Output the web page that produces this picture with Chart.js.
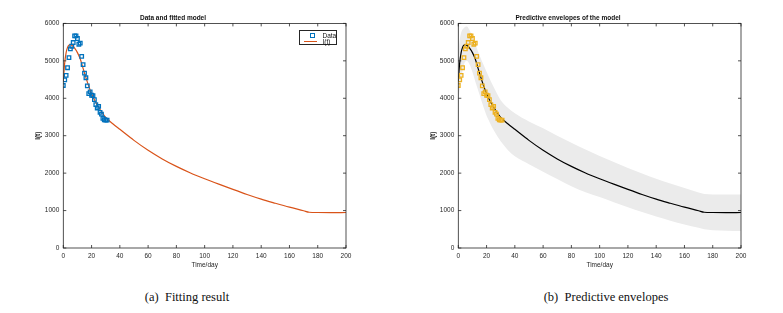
<!DOCTYPE html>
<html>
<head>
<meta charset="utf-8">
<script src="https://cdn.jsdelivr.net/npm/chart.js@4.4.1/dist/chart.umd.min.js"></script>
<style>
  body { margin: 0; background: #fff; width: 783px; height: 313px; position: relative; overflow: hidden; }
  canvas { position: absolute; top: 0; }
  #leftChart { left: 0; }
  #rightChart { left: 395px; }
  .caption { position: absolute; top: 290px; font-family: "Liberation Serif", "Times New Roman", serif; font-size: 12.5px; color: #111; white-space: nowrap; transform: translateX(-50%); }
  .legend { position: absolute; left: 299px; top: 30px; width: 38px; height: 15px; border: 0.8px solid #262626; background: #fff;
            font-family: "Liberation Sans", Arial, sans-serif; font-size: 6.5px; color: #111; box-sizing: border-box; }
  .legend .row { position: absolute; left: 0; height: 7px; line-height: 7px; }
  .legend .sq { position: absolute; left: 9.5px; top: 1px; width: 3px; height: 3px; border: 1.3px solid #0072BD; }
  .legend .ln { position: absolute; left: 4px; top: 3px; width: 13px; height: 1.3px; background: #D95319; }
  .legend .txt { position: absolute; left: 22.5px; top: 0; }
</style>
</head>
<body>
<canvas id="leftChart" width="360" height="275"></canvas>
<canvas id="rightChart" width="360" height="275"></canvas>
<div class="legend">
  <div class="row" style="top:0.5px"><span class="sq"></span><span class="txt">Data</span></div>
  <div class="row" style="top:7px"><span class="ln"></span><span class="txt">I(t)</span></div>
</div>
<div class="caption" style="left:187px">(a)&nbsp; Fitting result</div>
<div class="caption" style="left:606px">(b)&nbsp; Predictive envelopes</div>
<script>
//Observed data
var dataDays = [0,1,2,3,4,5,6,7,8,9,10,11,12,13,14,15,16,17,18,19,20,21,22,23,24,25,26,27,28,29,30,31];
var dataCases = [4341,4493,4610,4816,5085,5318,5390,5489,5668,5668,5596,5444,5471,5121,4897,4673,
                 4548,4332,4126,4170,4081,4072,3964,3830,3740,3785,3623,3578,3462,3426,3417,3417];

//Fitted model I(t)
var fitDays = [0,1,2,3,4,5,6,8,10,12,14,16,18,20,22,25,28,30,35,40,50,60,70,80,90,100,110,120,130,140,150,160,170,174,180,190,200];
var fitValues = [4450,4950,5220,5360,5420,5435,5415,5340,5220,5050,4800,4550,4320,4120,3960,3760,3590,3490,3320,3170,
                 2875,2610,2380,2180,2005,1850,1705,1565,1430,1305,1195,1090,995,955,948,946,948];

//Predictive envelope
var envDays = [0,1,2,4,6,8,10,12,15,18,21,25,30,35,40,50,60,70,80,90,100,110,120,130,140,150,160,170,174,180,190,200];
var envUpper = [5200,5550,5750,5880,5920,5820,5650,5450,5150,4880,4620,4300,3950,3750,3600,3380,3200,3000,2810,2630,
                2460,2300,2140,1990,1850,1720,1600,1480,1440,1430,1430,1430];
var envLower = [3900,4250,4500,4900,5000,4900,4700,4450,4100,3750,3450,3150,2850,2620,2450,2240,2040,1840,1650,1490,
                1360,1220,1090,960,840,730,630,540,500,475,462,455];

//Axis ticks
var xTicks = [0,20,40,60,80,100,120,140,160,180,200];
var yTicks = [0,1000,2000,3000,4000,5000,6000];

var axisColor = '#262626';
var font = { family: '"Liberation Sans", Arial, sans-serif', size: 6.5 };

function toPoints(xs, ys) {
  return xs.map(function (x, i) { return { x: x, y: ys[i] }; });
}

//Draws the box round the plot and MATLAB style inward ticks
var boxTicks = {
  id: 'boxTicks',
  afterDatasetsDraw: function (chart) {
    var ctx = chart.ctx;
    var a = chart.chartArea;
    var x = chart.scales.x;
    var y = chart.scales.y;
    ctx.save();
    ctx.strokeStyle = axisColor;
    ctx.lineWidth = 0.8;
    ctx.strokeRect(a.left, a.top, a.right - a.left, a.bottom - a.top);
    ctx.beginPath();
    for (var i = 0; i < x.ticks.length; i++) {
      var px = x.getPixelForTick(i);
      ctx.moveTo(px, a.bottom); ctx.lineTo(px, a.bottom - 3);
      ctx.moveTo(px, a.top); ctx.lineTo(px, a.top + 3);
    }
    for (var j = 0; j < y.ticks.length; j++) {
      var py = y.getPixelForTick(j);
      ctx.moveTo(a.left, py); ctx.lineTo(a.left + 3, py);
      ctx.moveTo(a.right, py); ctx.lineTo(a.right - 3, py);
    }
    ctx.stroke();
    ctx.restore();
  }
};

function plainLabel(value) {
  return String(value);
}

function makeOptions(titleText) {
  return {
    responsive: false,
    animation: false,
    devicePixelRatio: 1,
    layout: { padding: { left: 0, right: 14, top: 0, bottom: 0 } },
    plugins: {
      legend: { display: false },
      tooltip: { enabled: false },
      title: {
        display: true, text: titleText, color: '#111',
        font: { family: font.family, size: 6.5, weight: 'bold' },
        padding: { top: 14, bottom: 1.6 }
      }
    },
    scales: {
      x: {
        type: 'linear', min: 0, max: 200,
        afterBuildTicks: function (s) { s.ticks = xTicks.map(function (v) { return { value: v }; }); },
        afterFit: function (s) { s.height = 27; },
        grid: { display: false, drawTicks: false },
        border: { display: false },
        ticks: { color: axisColor, font: font, padding: 4, maxRotation: 0, autoSkip: false, callback: plainLabel },
        title: { display: true, text: 'Time/day', color: axisColor, font: font, padding: { top: 0, bottom: 5.8 } }
      },
      y: {
        type: 'linear', min: 0, max: 6000,
        afterBuildTicks: function (s) { s.ticks = yTicks.map(function (v) { return { value: v }; }); },
        afterFit: function (s) { s.width = 63.3; },
        grid: { display: false, drawTicks: false },
        border: { display: false },
        ticks: { color: axisColor, font: font, padding: 4, autoSkip: false, callback: plainLabel },
        title: { display: true, text: 'I(t)', color: axisColor, font: { family: font.family, size: 6.5, weight: 'bold' }, padding: { top: 34.8, bottom: 0 } }
      }
    }
  };
}

//Left chart: data and fitted model
new Chart(document.getElementById('leftChart'), {
  type: 'line',
  data: {
    datasets: [{
      label: 'Data',
      data: toPoints(dataDays, dataCases),
      showLine: false,
      pointStyle: 'rect',
      pointRadius: 2.5,
      pointBorderWidth: 1.3,
      pointBorderColor: '#0072BD',
      pointBackgroundColor: 'rgba(0,0,0,0)'
    }, {
      label: 'I(t)',
      data: toPoints(fitDays, fitValues),
      borderColor: '#D95319',
      borderWidth: 1.2,
      pointRadius: 0,
      cubicInterpolationMode: 'monotone'
    }]
  },
  options: makeOptions('Data and fitted model'),
  plugins: [boxTicks]
});

//Right chart: predictive envelopes
new Chart(document.getElementById('rightChart'), {
  type: 'line',
  data: {
    datasets: [{
      label: 'Data',
      data: toPoints(dataDays, dataCases),
      showLine: false,
      pointStyle: 'rect',
      pointRadius: 2.5,
      pointBorderWidth: 1.3,
      pointBorderColor: '#EDB120',
      pointBackgroundColor: 'rgba(0,0,0,0)'
    }, {
      label: 'I(t)',
      data: toPoints(fitDays, fitValues),
      borderColor: '#000000',
      borderWidth: 1.2,
      pointRadius: 0,
      cubicInterpolationMode: 'monotone'
    }, {
      label: 'upper',
      data: toPoints(envDays, envUpper),
      borderWidth: 0,
      pointRadius: 0,
      backgroundColor: '#ebebeb',
      fill: '+1',
      cubicInterpolationMode: 'monotone'
    }, {
      label: 'lower',
      data: toPoints(envDays, envLower),
      borderWidth: 0,
      pointRadius: 0,
      fill: false,
      cubicInterpolationMode: 'monotone'
    }]
  },
  options: makeOptions('Predictive envelopes of the model'),
  plugins: [boxTicks]
});
</script>
</body>
</html>
